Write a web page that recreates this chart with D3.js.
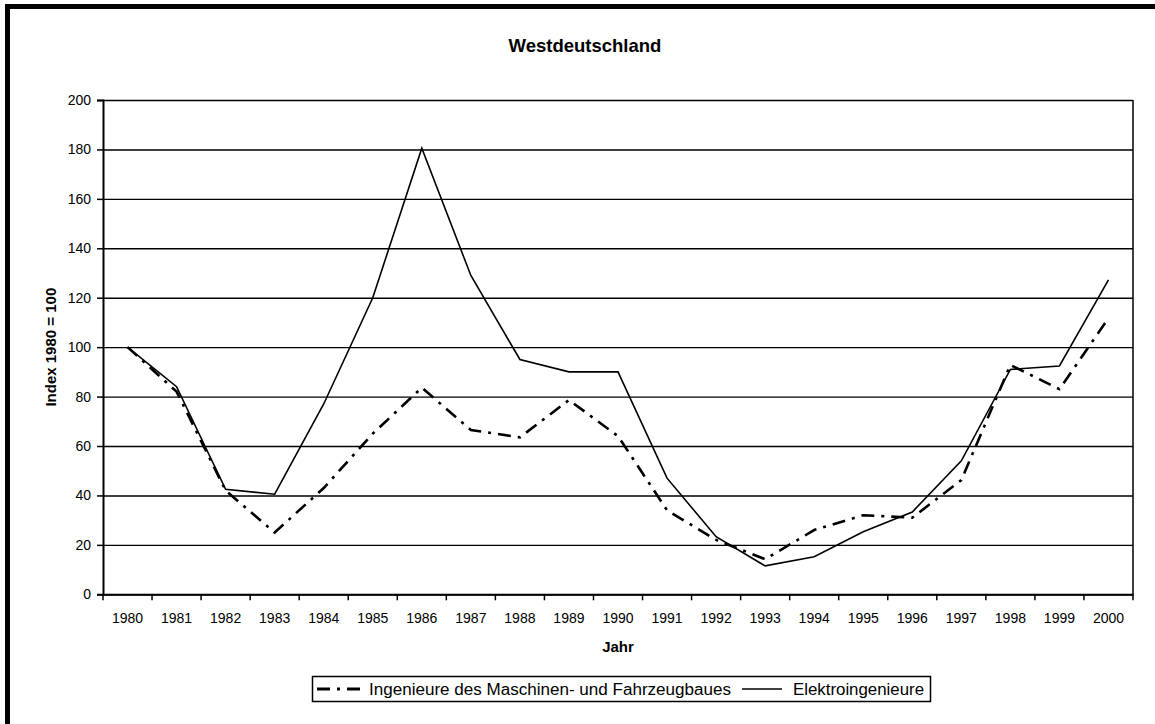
<!DOCTYPE html>
<html>
<head>
<meta charset="utf-8">
<script src="https://cdn.jsdelivr.net/npm/d3@7"></script>
<style>
  body { margin: 0; background: #fff; }
  svg { display: block; font-family: "Liberation Sans", Arial, sans-serif; }
</style>
</head>
<body>
<div id="chart"></div>
<script>
// years on the x axis
const years = ["1980","1981","1982","1983","1984","1985","1986","1987","1988","1989","1990",
               "1991","1992","1993","1994","1995","1996","1997","1998","1999","2000"];

// Index 1980 = 100
const maschinen = [100, 82, 42, 25, 43, 65, 83.6, 66.5, 63.5, 78.6, 64,
                   34, 22, 14.2, 26, 32, 31, 46.2, 92.8, 83, 111.7];
const elektro = [100, 84, 42.5, 40.5, 77, 120, 180.5, 129, 95, 90, 90,
                 47, 23.3, 11.5, 15.2, 25.3, 33.3, 54, 91, 92.4, 127.2];

const yTicks = [0, 20, 40, 60, 80, 100, 120, 140, 160, 180, 200];

const seriesNames = ["Ingenieure des Maschinen- und Fahrzeugbaues", "Elektroingenieure"];

const W = 1155, H = 724;
const plotL = 103, plotR = 1133, plotT = 100, plotB = 594.3;

const svg = d3.select("#chart").append("svg")
    .attr("width", W).attr("height", H);

// outer frame (only top and left edges are inside the picture)
svg.append("rect")
    .attr("x", 7.5).attr("y", 6.5)
    .attr("width", 1300).attr("height", 900)
    .attr("fill", "none").attr("stroke", "#000").attr("stroke-width", 5);

const x = d3.scaleBand().domain(years).range([plotL, plotR]).padding(0);
const y = d3.scaleLinear().domain([0, 200]).range([plotB, plotT]);

// gridlines
svg.append("g")
    .attr("transform", `translate(${plotL},0)`)
    .call(d3.axisLeft(y).tickValues(yTicks).tickSize(-(plotR - plotL)).tickFormat(""))
    .call(g => g.select(".domain").remove())
    .call(g => g.selectAll("line").attr("stroke", "#000").attr("stroke-width", 1.4));

// right edge of plot
svg.append("line")
    .attr("x1", plotR).attr("x2", plotR)
    .attr("y1", y(200)).attr("y2", y(0))
    .attr("stroke", "#000").attr("stroke-width", 1.5);

// y axis
svg.append("g")
    .attr("transform", `translate(${plotL},0)`)
    .call(d3.axisLeft(y).tickValues(yTicks).tickSize(6).tickPadding(6))
    .call(g => g.select(".domain").attr("stroke-width", 2))
    .call(g => g.selectAll(".tick line").attr("stroke-width", 1.5))
    .call(g => g.selectAll("text").attr("font-size", 14).attr("fill", "#000")
        .attr("font-family", "Liberation Sans, Arial, sans-serif"));

// x axis: labels at band centres, ticks at band edges
const xAxis = svg.append("g")
    .attr("transform", `translate(0,${plotB})`)
    .call(d3.axisBottom(x).tickSize(0).tickPadding(19))
    .call(g => g.select(".domain").attr("stroke-width", 2))
    .call(g => g.selectAll("text").attr("font-size", 14).attr("fill", "#000")
        .attr("font-family", "Liberation Sans, Arial, sans-serif"));

xAxis.selectAll(".edge")
    .data(years.concat(["end"]))
    .enter().append("line")
    .attr("class", "edge")
    .attr("x1", (d, i) => i < years.length ? x(d) : x(years[years.length - 1]) + x.bandwidth())
    .attr("x2", (d, i) => i < years.length ? x(d) : x(years[years.length - 1]) + x.bandwidth())
    .attr("y1", 0).attr("y2", 6)
    .attr("stroke", "#000").attr("stroke-width", 1.5);

const line = d3.line()
    .x((d, i) => x(years[i]) + x.bandwidth() / 2)
    .y(d => y(d));

svg.append("path")
    .datum(elektro)
    .attr("d", line)
    .attr("fill", "none")
    .attr("stroke", "#000")
    .attr("stroke-width", 1.6)
    .attr("stroke-linejoin", "miter");

svg.append("path")
    .datum(maschinen)
    .attr("d", line)
    .attr("fill", "none")
    .attr("stroke", "#000")
    .attr("stroke-width", 2.6)
    .attr("stroke-dasharray", "13,7,3,7");

// title
svg.append("text")
    .attr("x", 585).attr("y", 52)
    .attr("text-anchor", "middle")
    .attr("font-size", 18.5).attr("font-weight", "bold")
    .text("Westdeutschland");

// axis titles
svg.append("text")
    .attr("x", (plotL + plotR) / 2).attr("y", 652)
    .attr("text-anchor", "middle")
    .attr("font-size", 15).attr("font-weight", "bold")
    .text("Jahr");

svg.append("text")
    .attr("transform", `translate(56,${(plotT + plotB) / 2}) rotate(-90)`)
    .attr("text-anchor", "middle")
    .attr("font-size", 15).attr("font-weight", "bold")
    .text("Index 1980 = 100");

// legend
const legend = svg.append("g");
legend.append("rect")
    .attr("x", 312.5).attr("y", 676.5)
    .attr("width", 618).attr("height", 25)
    .attr("fill", "#fff").attr("stroke", "#000").attr("stroke-width", 1.5);

legend.append("line")
    .attr("x1", 317).attr("x2", 367).attr("y1", 689).attr("y2", 689)
    .attr("stroke", "#000").attr("stroke-width", 3)
    .attr("stroke-dasharray", "13,7,3,7");
legend.append("text")
    .attr("x", 369).attr("y", 694.5)
    .attr("font-size", 16)
    .attr("textLength", 362).attr("lengthAdjust", "spacingAndGlyphs")
    .text(seriesNames[0]);

legend.append("line")
    .attr("x1", 742).attr("x2", 782).attr("y1", 689).attr("y2", 689)
    .attr("stroke", "#000").attr("stroke-width", 1.6);
legend.append("text")
    .attr("x", 793).attr("y", 694.5)
    .attr("font-size", 16)
    .attr("textLength", 131).attr("lengthAdjust", "spacingAndGlyphs")
    .text(seriesNames[1]);
</script>
</body>
</html>
